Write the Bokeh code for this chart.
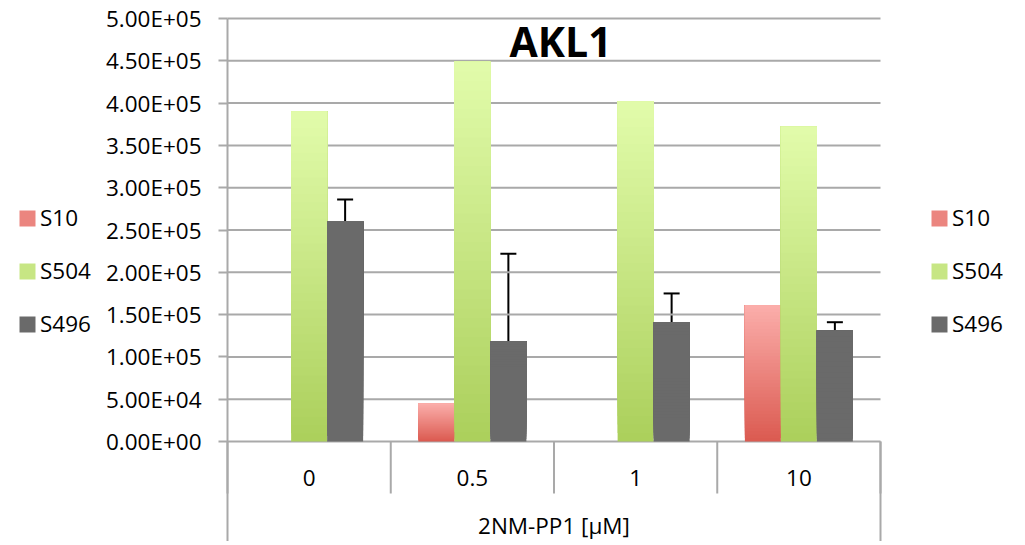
import numpy as np
from bokeh.plotting import figure
from bokeh.models import (Range1d, FixedTicker, CustomJSTickFormatter, Legend,
                          LegendItem, Whisker, TeeHead, ColumnDataSource, Label)
from bokeh.core.properties import value
from bokeh.embed import file_html
from bokeh.resources import INLINE

# ---------------- data ----------------
categories = ["0", "0.5", "1", "10"]
series_names = ["S10", "S504", "S496"]
s10_values = [0, 4.5e4, 0, 1.61e5]
s504_values = [3.90e5, 4.49e5, 4.02e5, 3.72e5]
s496_values = [2.60e5, 1.18e5, 1.41e5, 1.31e5]
s496_errors = [2.6e4, 1.04e5, 3.4e4, 1.0e4]
y_tick_values = [0, 5e4, 1e5, 1.5e5, 2e5, 2.5e5, 3e5, 3.5e5, 4e5, 4.5e5, 5e5]
x_axis_title = "2NM-PP1 [µM]"
chart_title = "AKL1"

# ---------------- layout constants ----------------
FONT = "Open Sans"
FS = "22.5px"
GRAY = "#a9a9a9"
WIDTH, HEIGHT = 1020, 541
PLOT_LEFT = 227          # canvas x of the value axis
ZERO_Y = 441             # canvas y of value 0
PX_PER_CAT = 163.25
PX_PER_UNIT = 423 / 5e5
n = len(categories)
x_start = -PLOT_LEFT / PX_PER_CAT
x_end = (WIDTH - PLOT_LEFT) / PX_PER_CAT
y_end = ZERO_Y / PX_PER_UNIT
y_start = -(HEIGHT - ZERO_Y) / PX_PER_UNIT
BAR_W = 0.2205
offsets = [-BAR_W, 0.0, BAR_W]

colors = {
    "S10": ("#db5a50", "#fbaeab"),
    "S504": ("#abcf5b", "#e2fcab"),
    "S496": ("#6a6a6a", "#6a6a6a"),
}

p = figure(width=WIDTH, height=HEIGHT, frame_width=WIDTH, frame_height=HEIGHT,
           x_range=Range1d(x_start, x_end), y_range=Range1d(y_start, y_end),
           output_backend="svg", toolbar_location=None, x_axis_location=None,
           min_border=0)
p.outline_line_color = None
p.background_fill_color = "white"
p.border_fill_color = "white"
p.grid.visible = False

# value axis drawn at x = 0 inside the frame
ticker = FixedTicker(ticks=y_tick_values)
ax = p.yaxis[0]
ax.fixed_location = 0
ax.ticker = ticker
ax.bounds = (y_start, max(y_tick_values))
ax.axis_line_color = GRAY
ax.axis_line_width = 2
ax.major_tick_line_color = GRAY
ax.major_tick_line_width = 2
ax.major_tick_out = 9
ax.major_tick_in = 0
ax.minor_tick_line_color = None
ax.major_label_text_font = FONT
ax.major_label_text_font_size = FS
ax.major_label_text_color = "black"
ax.major_label_standoff = 17
ax.formatter = CustomJSTickFormatter(code="""
const s = tick.toExponential(2).toUpperCase();
const parts = s.split("E");
const sign = parts[1][0];
const d = parts[1].slice(1).padStart(2, "0");
return parts[0] + "E" + sign + d;
""")

# horizontal gridlines over the category span
p.segment(x0=[0] * len(y_tick_values), x1=[n] * len(y_tick_values),
          y0=y_tick_values, y1=y_tick_values, line_color=GRAY, line_width=2)

# gradient bars built as stacked strips
N = 40
def hex_to_rgb(h):
    h = h.lstrip("#")
    return np.array([int(h[i:i + 2], 16) for i in (0, 2, 4)], dtype=float)

def strip_source(vals, off, c_bot, c_top):
    cb, ct = hex_to_rgb(c_bot), hex_to_rgb(c_top)
    L, R, B, T, C = [], [], [], [], []
    for i, v in enumerate(vals):
        if v <= 0:
            continue
        cx = i + 0.5 + off
        for k in range(N):
            f = (k + 0.5) / N
            rgb = cb + (ct - cb) * f
            L.append(cx - BAR_W / 2)
            R.append(cx + BAR_W / 2)
            B.append(v * k / N)
            T.append(v)
            C.append("#%02x%02x%02x" % tuple(int(round(c)) for c in rgb))
    return ColumnDataSource(dict(left=L, right=R, bottom=B, top=T, color=C))

renderers = []
for name, vals, off in zip(series_names, [s10_values, s504_values, s496_values], offsets):
    src = strip_source(vals, off, *colors[name])
    r = p.quad(left="left", right="right", bottom="bottom", top="top", source=src,
               fill_color="color", line_color=None)
    renderers.append(r)

# error bars (upper only)
err_src = ColumnDataSource(dict(
    x=[i + 0.5 + offsets[2] for i in range(n)],
    lower=s496_values,
    upper=[v + e for v, e in zip(s496_values, s496_errors)],
))
wh = Whisker(base="x", lower="lower", upper="upper", dimension="height", source=err_src,
             line_color="black", line_width=2, lower_head=None,
             upper_head=TeeHead(size=16, line_color="black", line_width=2))
p.add_layout(wh)

# category axis separators
inner_len = 52 / PX_PER_UNIT
p.segment(x0=list(range(n + 1)), y0=[0] * (n + 1), x1=list(range(n + 1)),
          y1=[-inner_len] * (n + 1), line_color=GRAY, line_width=2)
p.segment(x0=[n], y0=[0], x1=[n], y1=[y_start], line_color=GRAY, line_width=2)

# category labels and axis title
p.text(x=[i + 0.5 for i in range(n)], y=[0] * n, text=categories, y_offset=36,
       text_align="center", text_baseline="middle", text_font=value(FONT),
       text_font_size=FS, text_color="black")
p.text(x=[n / 2], y=[0], text=[x_axis_title], y_offset=84,
       text_align="center", text_baseline="middle", text_font=value(FONT),
       text_font_size=FS, text_color="black")

# title
p.add_layout(Label(x=n / 2 + 0.04, y=5e5 - 22 / PX_PER_UNIT, text=chart_title,
                   text_font=FONT, text_font_style="bold", text_font_size="41px",
                   text_align="center", text_baseline="middle", text_color="black"))

# legends (left and right)
def make_legend(xloc):
    items = [LegendItem(label=nm, renderers=[r], index=N // 2)
             for nm, r in zip(series_names, renderers)]
    lg = Legend(items=items, location=(xloc, HEIGHT - 339), orientation="vertical",
                glyph_width=20, glyph_height=20, label_standoff=3, spacing=22,
                padding=0, margin=0, border_line_color=None,
                background_fill_alpha=0, label_text_font=FONT,
                label_text_font_size=FS, label_text_color="black")
    return lg

p.add_layout(make_legend(17))
p.add_layout(make_legend(929))

open("out.html", "w").write(file_html(p, INLINE))
